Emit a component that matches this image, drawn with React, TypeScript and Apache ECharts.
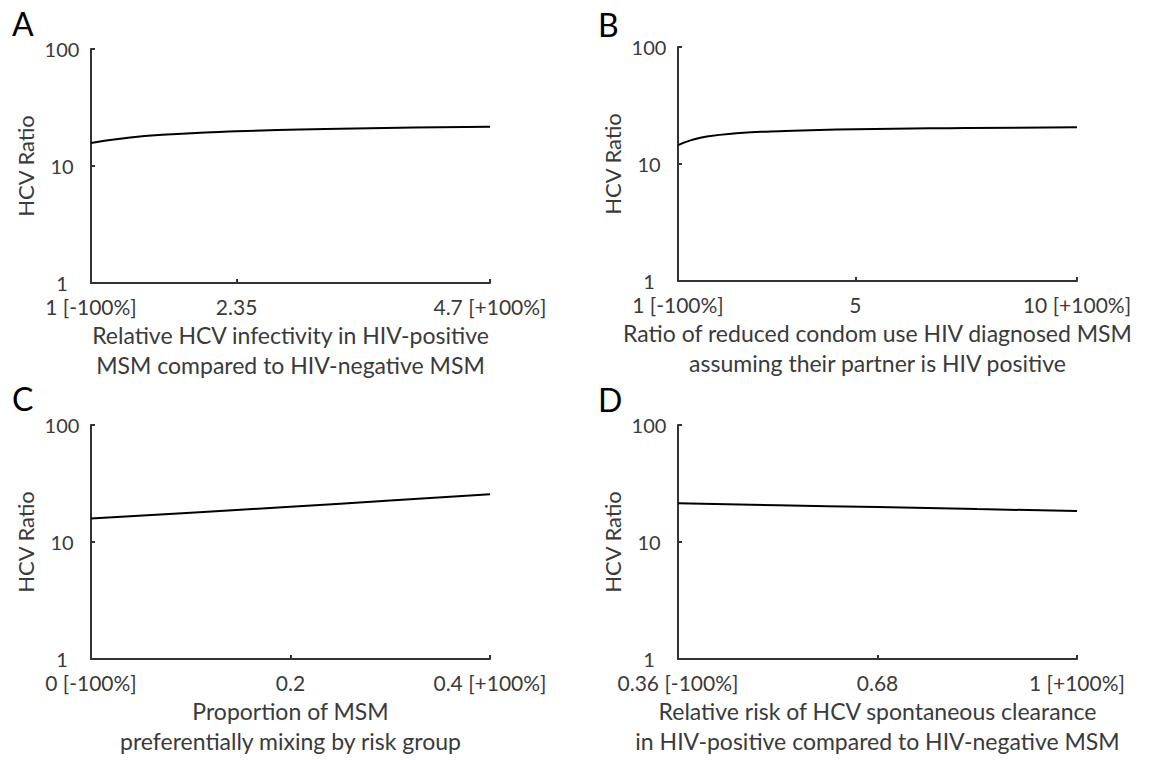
import React, { useEffect, useRef } from "react";
import * as echarts from "echarts";

// Panel A: relative HCV infectivity in HIV-positive MSM
const aTicks = [1, 2.35, 4.7];
const aTickLabels = ["1 [-100%]", "2.35", "4.7 [+100%]"];
const aX = [1, 1.25, 1.66, 2.35, 3.17, 4.0, 4.7];
const aY = [15.7, 17.0, 18.5, 19.8, 20.7, 21.3, 21.7];

// Panel B: ratio of reduced condom use
const bTicks = [1, 5, 10];
const bTickLabels = ["1 [-100%]", "5", "10 [+100%]"];
const bX = [1, 1.3, 1.65, 2.4, 3.0, 5, 7.5, 10];
const bY = [14.5, 16.0, 17.2, 18.4, 18.9, 19.8, 20.3, 20.6];

// Panel C: proportion preferentially mixing by risk group
const cTicks = [0, 0.2, 0.4];
const cTickLabels = ["0 [-100%]", "0.2", "0.4 [+100%]"];
const cX = [0, 0.1, 0.2, 0.3, 0.4];
const cY = [15.9, 17.8, 20.0, 22.6, 25.6];

// Panel D: relative risk of spontaneous clearance
const dTicks = [0.36, 0.68, 1];
const dTickLabels = ["0.36 [-100%]", "0.68", "1 [+100%]"];
const dX = [0.36, 0.52, 0.68, 0.84, 1];
const dY = [21.4, 20.6, 19.9, 19.1, 18.4];

const yTicks = [1, 10, 100];
const yTitle = "HCV Ratio";
const panelLetters = ["A", "B", "C", "D"];
const xTitles = [
  "Relative HCV infectivity in HIV-positive\nMSM compared to HIV-negative MSM",
  "Ratio of reduced condom use HIV diagnosed MSM\nassuming their partner is HIV positive",
  "Proportion of MSM\npreferentially mixing by risk group",
  "Relative risk of HCV spontaneous clearance\nin HIV-positive compared to HIV-negative MSM",
];

const FONT = "Lato, 'Open Sans', sans-serif";
const AXIS_COLOR = "#333333";
const TEXT_COLOR = "#3a3a3a";

const panels = [
  { ticks: aTicks, labels: aTickLabels, xs: aX, ys: aY, left: 91, top: 49 },
  { ticks: bTicks, labels: bTickLabels, xs: bX, ys: bY, left: 678, top: 47 },
  { ticks: cTicks, labels: cTickLabels, xs: cX, ys: cY, left: 91, top: 425 },
  { ticks: dTicks, labels: dTickLabels, xs: dX, ys: dY, left: 678, top: 425 },
];

const letterPos = [
  { x: 12, y: 23 },
  { x: 598, y: 24 },
  { x: 12, y: 398 },
  { x: 598, y: 399 },
];

export default function App() {
  const ref = useRef<HTMLDivElement>(null);

  useEffect(() => {
    if (!ref.current) return;
    const chart = echarts.init(ref.current, null, { renderer: "svg" });

    const grid = panels.map((p) => ({
      left: p.left,
      top: p.top,
      width: 399,
      height: 234,
      containLabel: false,
    }));

    const xAxis = panels.map((p, i) => ({
      type: "value",
      gridIndex: i,
      min: p.ticks[0],
      max: p.ticks[p.ticks.length - 1],
      name: xTitles[i],
      nameLocation: "middle",
      nameGap: 37,
      nameTextStyle: {
        fontFamily: FONT,
        fontSize: 23,
        color: TEXT_COLOR,
        lineHeight: 30,
      },
      axisLine: { show: true, lineStyle: { color: AXIS_COLOR, width: 2 } },
      axisTick: {
        show: true,
        inside: true,
        length: 4,
        customValues: p.ticks,
        lineStyle: { color: AXIS_COLOR, width: 2 },
      },
      axisLabel: {
        customValues: p.ticks,
        margin: 13,
        fontFamily: FONT,
        fontSize: 21,
        color: TEXT_COLOR,
        formatter: (v: number) => {
          const k = p.ticks.findIndex((t) => Math.abs(t - v) < 1e-9);
          return k >= 0 ? p.labels[k] : "";
        },
      },
      splitLine: { show: false },
    }));

    const yAxis = panels.map((p, i) => ({
      type: "log",
      logBase: 10,
      gridIndex: i,
      min: yTicks[0],
      max: yTicks[yTicks.length - 1],
      name: yTitle,
      nameLocation: "middle",
      nameGap: 55,
      nameTextStyle: { fontFamily: FONT, fontSize: 22, color: TEXT_COLOR },
      axisLine: { show: true, lineStyle: { color: AXIS_COLOR, width: 2 } },
      axisTick: {
        show: true,
        inside: true,
        length: 4,
        lineStyle: { color: AXIS_COLOR, width: 2 },
      },
      axisLabel: {
        margin: 29,
        align: "center",
        fontFamily: FONT,
        fontSize: 20,
        color: TEXT_COLOR,
        formatter: (v: number) => String(Math.round(v)),
      },
      splitLine: { show: false },
    }));

    const series = panels.map((p, i) => ({
      type: "line",
      xAxisIndex: i,
      yAxisIndex: i,
      data: p.xs.map((x, k) => [x, p.ys[k]]),
      smooth: true,
      showSymbol: false,
      symbol: "none",
      lineStyle: { color: "#000000", width: 2 },
    }));

    const graphic = panelLetters.map((t, i) => ({
      type: "text",
      x: letterPos[i].x,
      y: letterPos[i].y,
      style: {
        text: t,
        fontFamily: FONT,
        fontSize: 32,
        fill: "#000000",
        verticalAlign: "middle",
        align: "left",
      },
    }));

    chart.setOption({
      animation: false,
      backgroundColor: "#ffffff",
      grid,
      xAxis,
      yAxis,
      series,
      graphic,
    } as any);

    return () => chart.dispose();
  }, []);

  return (
    <div
      ref={ref}
      style={{ position: "absolute", left: 0, top: 0, width: 1152, height: 760 }}
    />
  );
}
